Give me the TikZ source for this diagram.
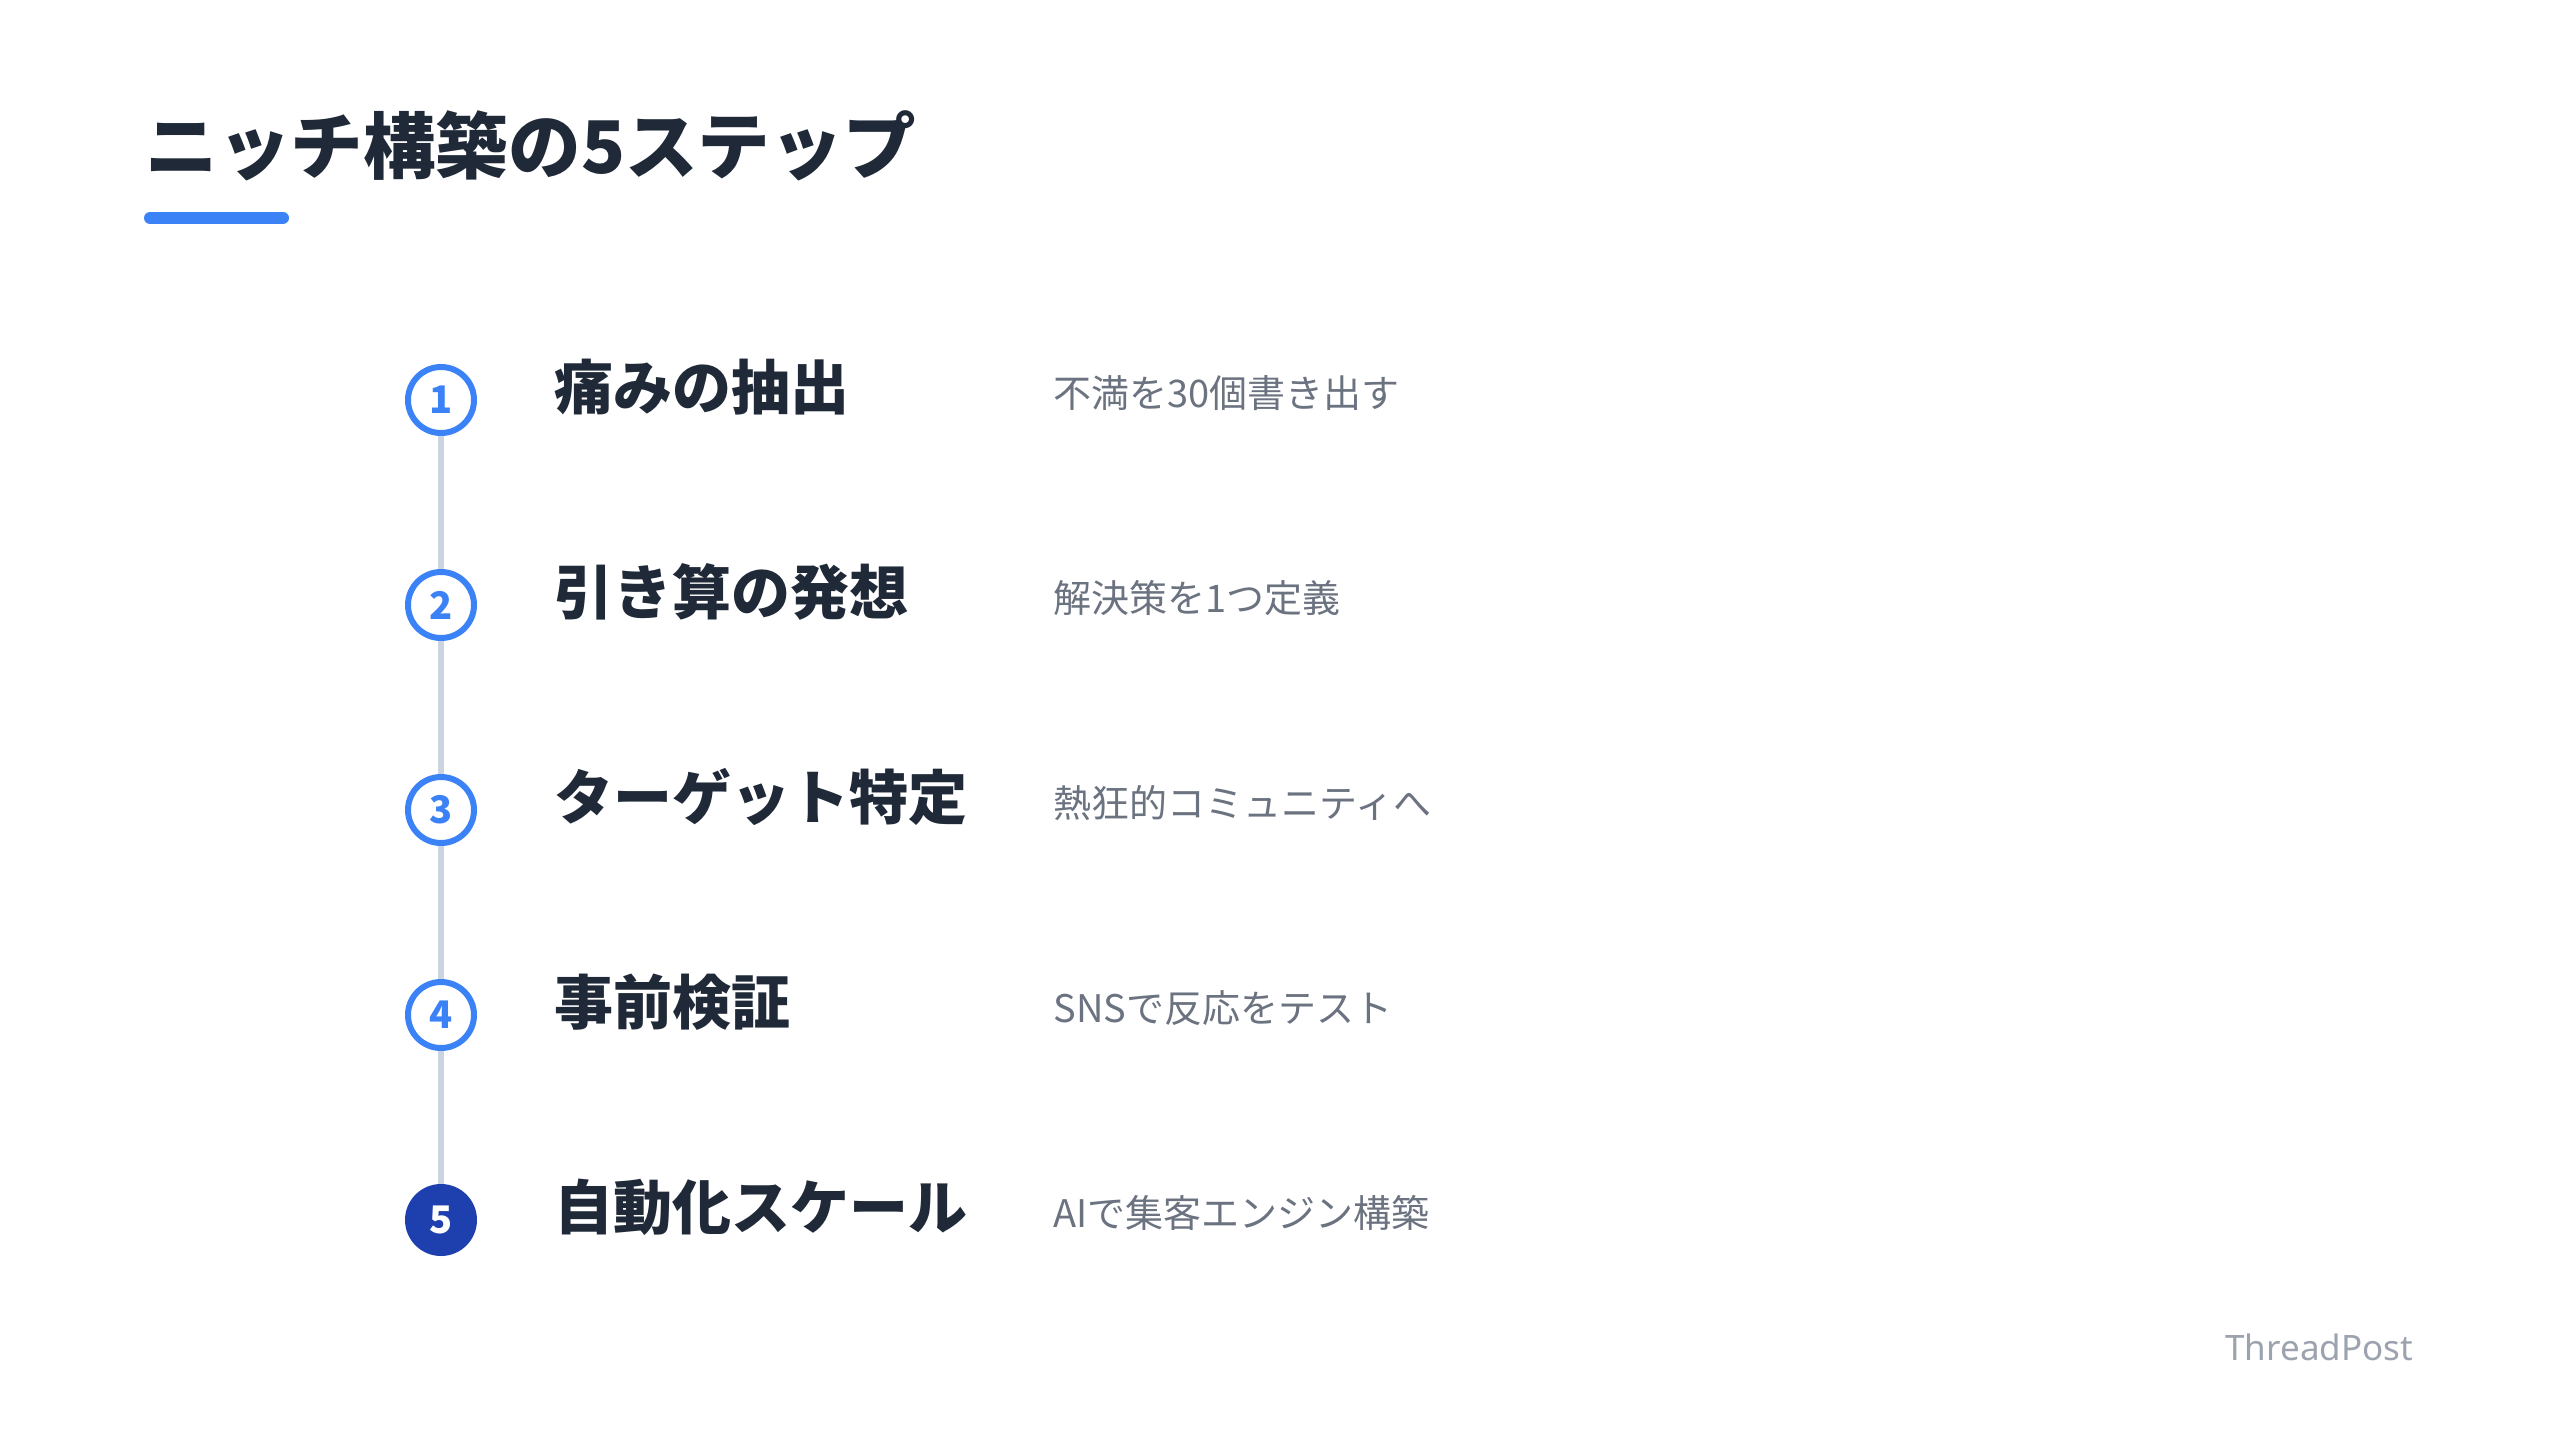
\documentclass[tikz,border=0pt]{standalone}
\usepackage{fontspec}
\setmainfont{Noto Sans CJK JP}
\newfontfamily\brandfont{Noto Sans}
\usetikzlibrary{positioning}
\definecolor{ink}{HTML}{1F2937}
\definecolor{stepblue}{HTML}{3B82F6}
\definecolor{navy}{HTML}{1E40AF}
\definecolor{rail}{HTML}{CBD5E1}
\definecolor{note}{HTML}{6B7280}
\definecolor{brand}{HTML}{9CA3AF}
\tikzset{
  num/.style={circle,draw=stepblue,line width=3pt,fill=white,minimum size=33pt,inner sep=0pt,
    text=stepblue,font=\bfseries\fontsize{19}{19}\selectfont},
  numlast/.style={num,draw=navy,fill=navy,text=white},
  stepname/.style={anchor=west,inner sep=0pt,text=ink,font=\bfseries\fontsize{29.5}{29.5}\selectfont},
  stepnote/.style={anchor=west,inner sep=0pt,text=note,font=\fontsize{19}{19}\selectfont},
  railline/.style={draw=rail,line width=3pt}
}
\begin{document}
\begin{tikzpicture}[x=0.5pt,y=-0.5pt]
    \useasboundingbox[fill=white] (0,0) rectangle (2560,1440);
    % heading
    \node[anchor=base west,inner sep=0pt,text=ink,font=\bfseries\fontsize{36.3}{36.3}\selectfont] (head) at (145,173) {ニッチ構築の5ステップ};
    \draw[stepblue,line width=6pt,line cap=round] (150,218) -- (283,218);
    % step markers
    \node[num] (c1) at (441,400) {1};
    \node[num] (c2) at (441,605) {2};
    \node[num] (c3) at (441,810) {3};
    \node[num] (c4) at (441,1015) {4};
    \node[numlast] (c5) at (441,1220) {5};
    \draw[railline] (c1.south) -- (c2.north);
    \draw[railline] (c2.south) -- (c3.north);
    \draw[railline] (c3.south) -- (c4.north);
    \draw[railline] (c4.south) -- (c5.north);
    % names and notes
    \node[stepname] (n1) at (554,387) {痛みの抽出};
    \node[stepname] (n2) at (554,592) {引き算の発想};
    \node[stepname] (n3) at (554,797) {ターゲット特定};
    \node[stepname] (n4) at (554,1002) {事前検証};
    \node[stepname] (n5) at (554,1207) {自動化スケール};
    \node[stepnote] (d1) at (1053,393) {不満を30個書き出す};
    \node[stepnote] (d2) at (1053,598) {解決策を1つ定義};
    \node[stepnote] (d3) at (1053,803) {熱狂的コミュニティへ};
    \node[stepnote] (d4) at (1053,1008) {SNSで反応をテスト};
    \node[stepnote] (d5) at (1053,1213) {AIで集客エンジン構築};
    % footer
    \node[anchor=base west,inner sep=0pt,text=brand,font=\brandfont\fontsize{17.5}{17.5}\selectfont] (mark) at (2225,1360) {ThreadPost};
\end{tikzpicture}
\end{document}
